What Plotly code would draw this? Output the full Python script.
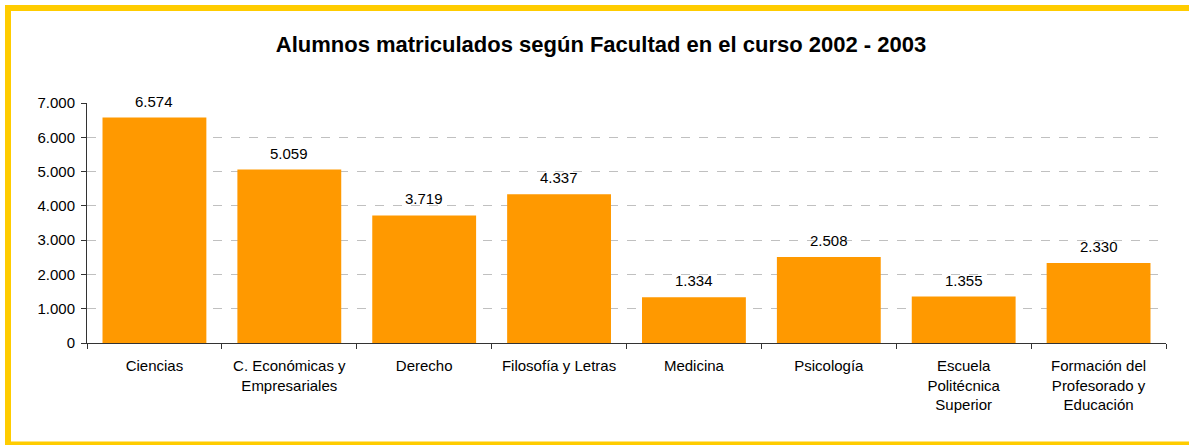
import plotly.graph_objects as go

# Alumnos matriculados por facultad, curso 2002 - 2003
facultades = [
    "Ciencias",
    "C. Económicas y<br>Empresariales",
    "Derecho",
    "Filosofía y Letras",
    "Medicina",
    "Psicología",
    "Escuela<br>Politécnica<br>Superior",
    "Formación del<br>Profesorado y<br>Educación",
]
alumnos = [6574, 5059, 3719, 4337, 1334, 2508, 1355, 2330]
y_ticks = [0, 1000, 2000, 3000, 4000, 5000, 6000, 7000]

W, H = 1189, 445
ML, MR, MT, MB = 87, 23, 103, 102
plot_w = W - ML - MR
plot_h = H - MT - MB


def px_x(p):
    return (p - ML) / plot_w


def px_y(p):
    return (H - MB - p) / plot_h


fig = go.Figure()
fig.add_trace(go.Bar(
    x=facultades,
    y=alumnos,
    marker=dict(color="#FF9900", line=dict(width=0)),
    hoverinfo="x+y",
))

# etiquetas de valor encima de cada barra
for f, v in zip(facultades, alumnos):
    fig.add_annotation(
        x=f, y=v, text=f"{v:,}".replace(",", "."),
        showarrow=False, yanchor="bottom", yshift=6,
        font=dict(size=15, color="#000000"),
    )

# marco amarillo: tres bandas rellenas (izquierda, arriba, abajo)
banda = dict(type="rect", xref="paper", yref="paper",
             fillcolor="#FFCC00", line=dict(width=0), layer="below")
fig.add_shape(x0=px_x(5), x1=px_x(11), y0=px_y(447), y1=px_y(5), **banda)
fig.add_shape(x0=px_x(5), x1=px_x(3000), y0=px_y(11), y1=px_y(5), **banda)
fig.add_shape(x0=px_x(5), x1=px_x(3000), y0=px_y(447), y1=px_y(441.5), **banda)

fig.update_layout(
    width=W, height=H,
    margin=dict(l=ML, r=MR, t=MT, b=MB),
    paper_bgcolor="white",
    plot_bgcolor="white",
    separators=",.",
    bargap=0.23,
    showlegend=False,
    font=dict(family="Liberation Sans, Arial, sans-serif", size=15, color="#000000"),
    title=dict(
        text="<b>Alumnos matriculados según Facultad en el curso 2002 - 2003</b>",
        x=601 / W, xanchor="center", xref="container",
        y=1 - 44 / H, yanchor="middle",
        font=dict(size=22, color="#000000"),
    ),
)
fig.update_xaxes(
    showline=True, linecolor="#333333", linewidth=1,
    ticks="outside", ticklen=5, tickcolor="#333333",
    tickson="boundaries", showgrid=False,
    tickfont=dict(size=15), ticklabelstandoff=9,
)
fig.update_yaxes(
    range=[0, 7000], tickvals=y_ticks, tickformat=",",
    showline=True, linecolor="#333333", linewidth=1,
    ticks="outside", ticklen=5, tickcolor="#333333",
    showgrid=True, gridcolor="#C0C0C0", griddash="dash", gridwidth=1,
    zeroline=False, tickfont=dict(size=15), ticklabelstandoff=3,
)

fig.write_html("out.html", config={"displayModeBar": False},
               post_script="document.body.style.margin='0';")
